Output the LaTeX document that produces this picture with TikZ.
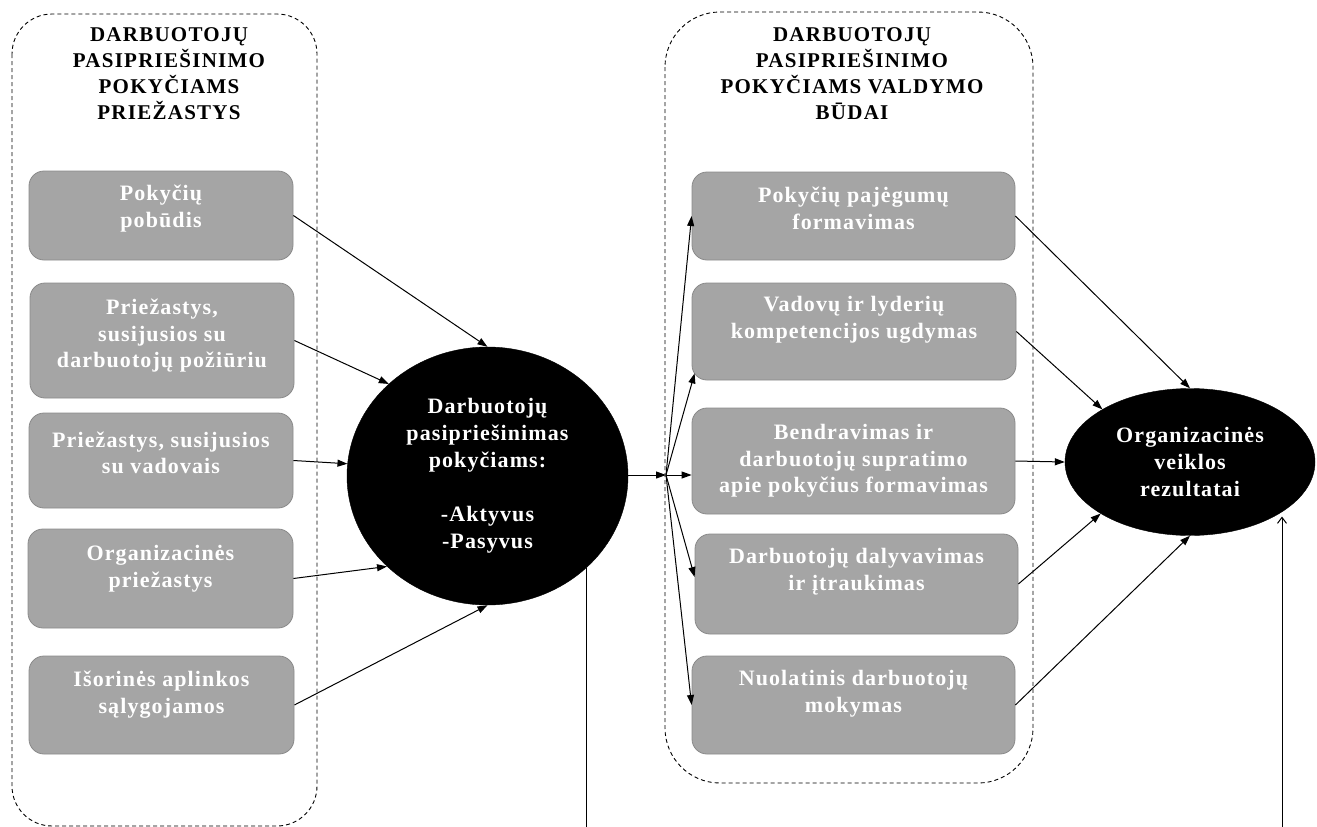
\documentclass[tikz,border=0pt]{standalone}
\usepackage{fontspec}
\setmainfont{Liberation Serif}[BoldFont={Liberation Serif Bold}]
\newfontfamily\diagbold{Liberation Serif Bold}[LetterSpace=5]
\newfontfamily\diagboldwide{Liberation Serif Bold}[LetterSpace=6]
\usetikzlibrary{arrows.meta,shapes.geometric,calc}

\definecolor{boxfill}{HTML}{A5A5A5}
\definecolor{boxedge}{HTML}{8A8A8A}

% fonts: bold serif, slightly letter-spaced
\newcommand{\diagboxfont}{\diagbold\fontsize{22pt}{26.5pt}\selectfont}
\newcommand{\diaghubfont}{\diagbold\fontsize{22pt}{27pt}\selectfont}
\newcommand{\diagheadfont}{\diagboldwide\fontsize{21pt}{26pt}\selectfont}

\begin{document}
\begin{tikzpicture}[x=1pt,y=-1pt,
  frame/.style={draw=black, line width=0.9pt, dash pattern=on 4pt off 3pt},
  gbox/.style={draw=boxedge, fill=boxfill, rounded corners=15pt, line width=0.8pt, inner sep=0pt},
  gtext/.style={text=white, font=\diagboxfont, align=center, inner sep=0pt},
  head/.style={text=black, font=\diagheadfont, align=center, inner sep=0pt},
  hub/.style={ellipse, fill=black, draw=black, text=white, font=\diaghubfont, align=center, inner sep=0pt},
  link/.style={line width=1pt, -{Triangle[length=10pt,width=7pt]}},
  plain/.style={line width=1pt},
  uplink/.style={line width=1pt, -{Straight Barb[length=6pt,width=9pt]}, shorten >=4pt}
]
\useasboundingbox (0,0) rectangle (1317,827);

% dashed group frames
\draw[frame, rounded corners=40pt] (12,14) rectangle (317,826);
\draw[frame, rounded corners=55pt] (665,12) rectangle (1033,783);

% group headings
\node[head] (lh) at (169,74) {DARBUOTOJŲ\\PASIPRIEŠINIMO\\POKYČIAMS\\PRIEŽASTYS};
\node[head] (rh) at (852,74) {DARBUOTOJŲ\\PASIPRIEŠINIMO\\POKYČIAMS VALDYMO\\BŪDAI};

% causes
\node[gbox, minimum width=264pt, minimum height=89pt]  (l1) at (161,215.5) {};
\node[gbox, minimum width=264pt, minimum height=115pt] (l2) at (162,340.5) {};
\node[gbox, minimum width=264pt, minimum height=95pt]  (l3) at (161,460.5) {};
\node[gbox, minimum width=265pt, minimum height=99pt]  (l4) at (160.5,578.5) {};
\node[gbox, minimum width=265pt, minimum height=98pt]  (l5) at (161.5,705) {};
\node[gtext] (l1t) at (161,208.5) {Pokyčių\\pobūdis};
\node[gtext] (l2t) at (162,336) {Priežastys,\\susijusios su\\darbuotojų požiūriu};
\node[gtext] (l3t) at (161,453) {Priežastys, susijusios\\su vadovais};
\node[gtext] (l4t) at (160.5,568.5) {Organizacinės\\priežastys};
\node[gtext] (l5t) at (161.5,694.5) {Išorinės aplinkos\\sąlygojamos};

% management methods
\node[gbox, minimum width=323pt, minimum height=88pt]  (r1) at (853.5,216) {};
\node[gbox, minimum width=324pt, minimum height=97pt]  (r2) at (854,331.5) {};
\node[gbox, minimum width=323pt, minimum height=106pt] (r3) at (853.5,461) {};
\node[gbox, minimum width=323pt, minimum height=100pt] (r4) at (856.5,584) {};
\node[gbox, minimum width=323pt, minimum height=98pt]  (r5) at (853.5,705) {};
\node[gtext] (r1t) at (853.5,208.5) {Pokyčių pajėgumų\\formavimas};
\node[gtext] (r2t) at (854,320) {Vadovų ir lyderių\\kompetencijos ugdymas};
\node[gtext] (r3t) at (853.5,461) {Bendravimas ir\\darbuotojų supratimo\\apie pokyčius formavimas};
\node[gtext] (r4t) at (856.5,571.5) {Darbuotojų dalyvavimas\\ir įtraukimas};
\node[gtext] (r5t) at (853.5,693.5) {Nuolatinis darbuotojų\\mokymas};

% central resistance node and outcome node
\node[hub, minimum width=281pt, minimum height=258pt] (res) at (487.5,476)
  {Darbuotojų\\pasipriešinimas\\pokyčiams:\\[27pt]-Aktyvus\\-Pasyvus};
\node[hub, minimum width=250pt, minimum height=147pt] (out) at (1190,462)
  {Organizacinės\\veiklos\\rezultatai};

% causes -> resistance
\draw[link] (l1.east) -- (res.north);
\draw[link] (l2.east) -- (res.137);
\draw[link] (l3.east) -- (res.175);
\draw[link] (l4.east) -- (res.222);
\draw[link] (l5.east) -- (res.south);

% resistance -> fan-out point -> methods
\coordinate (fan) at (666,475);
\draw[link] (fan -| res.east) -- (fan);
\draw[link] (fan) -- (r1.west);
\draw[link] (fan) -- ($(r2.south west)+(3,-7)$);
\draw[link] (fan) -- (fan -| r3.west);
\draw[link] (fan) -- ($(r4.west)+(0,-7)$);
\draw[link] (fan) -- (r5.west);

% methods -> outcome
\draw[link] (r1.east) -- (out.north);
\draw[link] (r2.east) -- (out.149);
\draw[link] (r3.east) -- (out.west);
\draw[link] (r4.east) -- (out.210);
\draw[link] (r5.east) -- (out.south);

% lines continuing below
\coordinate (b1) at (586,827);
\coordinate (b2) at (1282,827);
\draw[plain] (res.317) -- (res.317 |- b1);
\draw[uplink] (b2) -- (b2 |- out.331);
\end{tikzpicture}
\end{document}
